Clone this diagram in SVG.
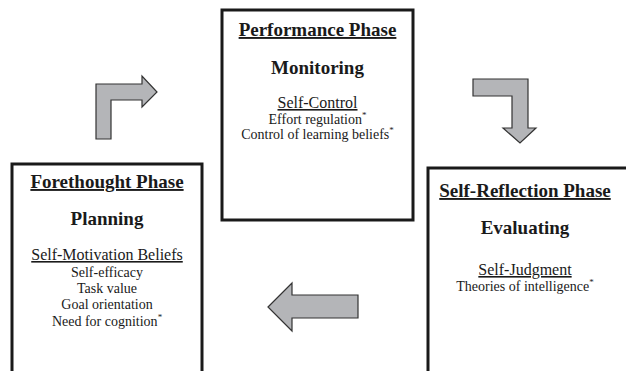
<svg xmlns="http://www.w3.org/2000/svg" width="626" height="371" viewBox="0 0 626 371">
<style>
.box{fill:#fff;stroke:#1a1a1a;stroke-width:3}
.arr{fill:#b4b5b8;stroke:#333;stroke-width:1.2;stroke-linejoin:miter}
text{font-family:"Liberation Serif","Times New Roman",serif;fill:#1a1a1a;text-anchor:middle}
.h{font-size:19px;font-weight:bold}
.hu{font-size:19px;font-weight:bold;text-decoration:underline}
.s{font-size:16px;text-decoration:underline}
.b{font-size:14px}
.sup{font-size:9px}
</style>
<rect width="626" height="371" fill="#fff"/>
<g id="connectors">
<polygon class="arr" points="96,139 96,84 142,84 142,76 157,92 142,107 142,100 111,100 111,139"/>
<polygon class="arr" points="473,79 528,79 528,128 536,128 520,143 503,128 512,128 512,96 473,96"/>
<polygon class="arr" points="268,307 292,283 292,295 358,295 358,318 292,318 292,331"/>
</g>
<g id="performance">
<rect class="box" x="222" y="10" width="191" height="210"/>
<text class="hu" x="317.5" y="36">Performance Phase</text>
<text class="h" x="317.5" y="74">Monitoring</text>
<text class="s" x="317.5" y="108">Self-Control</text>
<text class="b" x="317.5" y="124">Effort regulation<tspan class="sup" dy="-6">*</tspan></text>
<text class="b" x="317.5" y="139">Control of learning beliefs<tspan class="sup" dy="-6">*</tspan></text>
</g>
<g id="forethought">
<rect class="box" x="12" y="164" width="190" height="230"/>
<text class="hu" x="107" y="188">Forethought Phase</text>
<text class="h" x="107" y="225">Planning</text>
<text class="s" x="107" y="260">Self-Motivation Beliefs</text>
<text class="b" x="107" y="277">Self-efficacy</text>
<text class="b" x="107" y="293">Task value</text>
<text class="b" x="107" y="309">Goal orientation</text>
<text class="b" x="107" y="326">Need for cognition<tspan class="sup" dy="-6">*</tspan></text>
</g>
<g id="selfreflection">
<rect class="box" x="428" y="168" width="220" height="230"/>
<text class="hu" x="525" y="197">Self-Reflection Phase</text>
<text class="h" x="525" y="234">Evaluating</text>
<text class="s" x="525" y="275">Self-Judgment</text>
<text class="b" x="525" y="291">Theories of intelligence<tspan class="sup" dy="-6">*</tspan></text>
</g>
</svg>
